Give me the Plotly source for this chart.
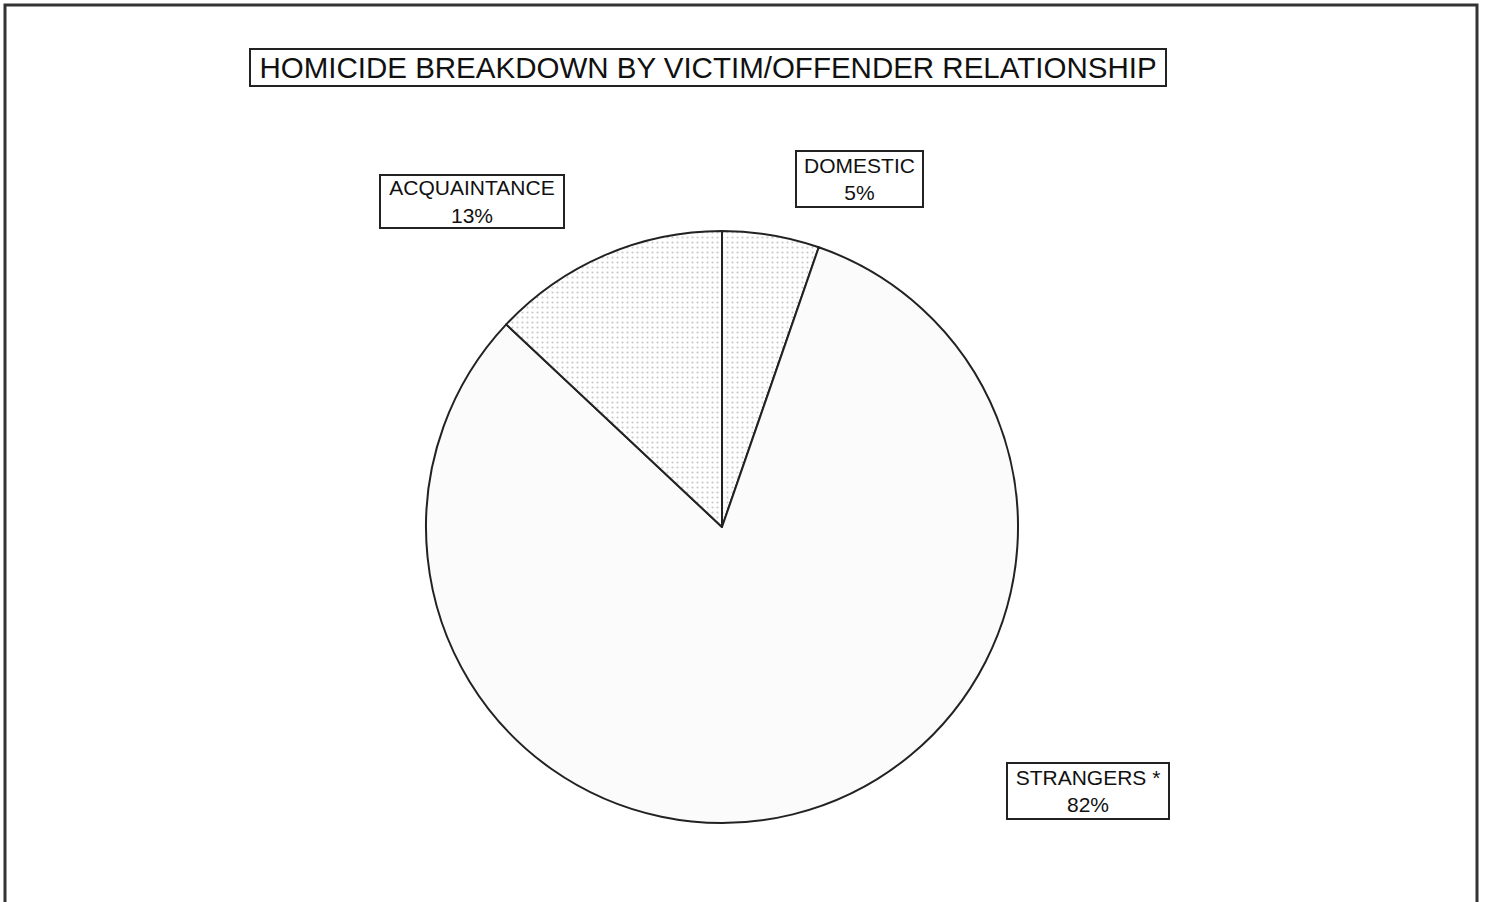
import plotly.graph_objects as go

labels = ["DOMESTIC", "STRANGERS *", "ACQUAINTANCE"]
values = [5.3, 81.7, 13.0]
pct_text = ["5%", "82%", "13%"]
colors = ["#e2e2e2", "#fbfbfb", "#eeeeee"]
title_text = "HOMICIDE BREAKDOWN BY VICTIM/OFFENDER RELATIONSHIP"

W, H = 1488, 902

fig = go.Figure(go.Pie(
    labels=labels,
    values=values,
    sort=False,
    direction="clockwise",
    rotation=0,
    textinfo="none",
    hoverinfo="label+percent",
    marker=dict(colors=colors, line=dict(color="#222222", width=2),
                pattern=dict(shape=[".", "", "."], fgcolor="#c8c8c8", size=5, solidity=0.15)),
    domain=dict(x=[426 / W, 1018 / W], y=[1 - 823 / H, 1 - 231 / H]),
    showlegend=False,
))

label_font = "Liberation Sans, Arial, sans-serif"

# label boxes: (center_x, center_y, width, height) in pixels
boxes = {
    "DOMESTIC": (859, 179, 129, 58),
    "STRANGERS *": (1088, 791, 164, 58),
    "ACQUAINTANCE": (472, 202, 186, 55),
}

annotations = [dict(
    text=title_text, x=708 / W, y=1 - 67.5 / H, xref="paper", yref="paper",
    xanchor="center", yanchor="middle", showarrow=False,
    font=dict(family=label_font, size=29.5, color="#111111"),
    bordercolor="#222222", borderwidth=2, borderpad=0,
    width=914, height=35, bgcolor="white",
)]
for lab, pct in zip(labels, pct_text):
    cx, cy, bw, bh = boxes[lab]
    annotations.append(dict(
        text=f"{lab}<br>{pct}", x=cx / W, y=1 - cy / H, xref="paper", yref="paper",
        xanchor="center", yanchor="middle", showarrow=False,
        font=dict(family=label_font, size=21, color="#111111"),
        bordercolor="#222222", borderwidth=2, borderpad=0,
        width=bw - 4, height=bh - 4, bgcolor="white",
    ))

fig.update_layout(
    width=W, height=H,
    margin=dict(l=0, r=0, t=0, b=0),
    paper_bgcolor="white", plot_bgcolor="white",
    annotations=annotations,
    shapes=[dict(type="rect", xref="paper", yref="paper",
                 x0=5 / W, x1=1477 / W, y0=-0.1, y1=1 - 5 / H,
                 line=dict(color="#333333", width=3))],
)

fig.write_html("out.html", config={"displayModeBar": False},
               post_script="document.body.style.margin='0px';document.body.style.overflow='hidden';")
